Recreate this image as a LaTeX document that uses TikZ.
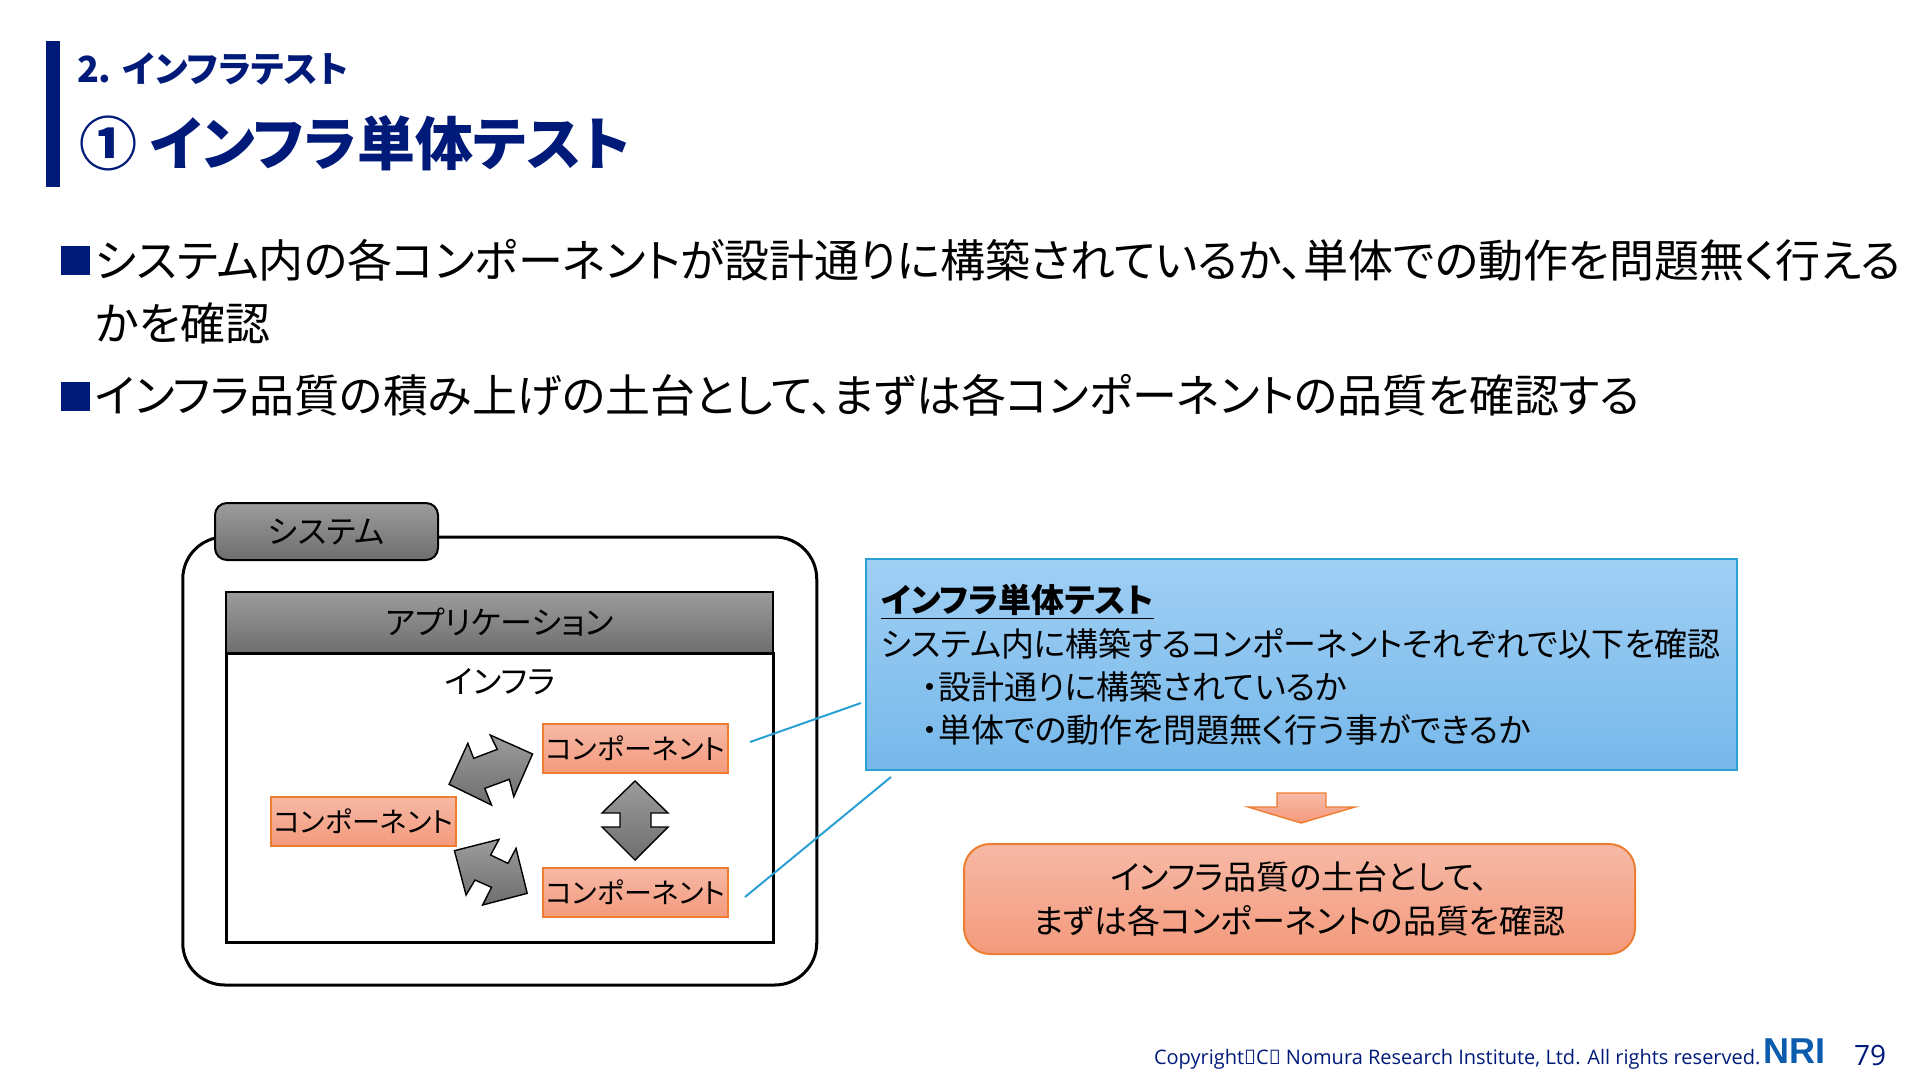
\documentclass[tikz,border=0pt]{standalone}
\usepackage{fontspec}
\setmainfont[RawFeature=+palt]{Noto Sans CJK JP}
\newfontfamily\latinf{Open Sans}
\newfontfamily\logof{Liberation Sans}
\definecolor{navy}{HTML}{001A7A}
\definecolor{logoblue}{HTML}{0B5CAD}
\definecolor{edgeorange}{HTML}{ED7D31}
\definecolor{orangetop}{HTML}{F6B9A6}
\definecolor{orangebot}{HTML}{F49A7C}
\definecolor{bluetop}{HTML}{A0CFF4}
\definecolor{bluebot}{HTML}{76B8EA}
\definecolor{edgeblue}{HTML}{2AA0D5}
\definecolor{graytop}{HTML}{9C9C9C}
\definecolor{graybot}{HTML}{6E6E6E}
\newcommand{\px}[1]{\fontsize{#1/2}{#1/2}\selectfont}
\newcommand{\fsz}[2]{\fontsize{#1pt}{#2pt}\selectfont}
\tikzset{
  plain/.style={inner sep=0pt,outer sep=0pt},
  graybox/.style={plain,draw=black,line width=1pt,top color=graytop,bottom color=graybot,text=black},
  compbox/.style={plain,draw=edgeorange,line width=1pt,top color=orangetop,bottom color=orangebot,minimum width=92.5pt,minimum height=24.5pt,font=\fsz{14}{16}},
  grayarrow/.style={draw=black,line width=0.7pt,top color=graytop,bottom color=graybot},
  leader/.style={draw=edgeblue,line width=1pt},
  bullet/.style={plain,fill=navy,minimum width=14.5pt,minimum height=14.5pt},
  bodytext/.style={plain,anchor=west,text=black,font=\fsz{22.5}{26}},
  boxtext/.style={plain,anchor=west,text=black,font=\fsz{16.5}{20}},
  titletext/.style={plain,anchor=west,text=navy,font=\bfseries\fsz{18}{20}}
}
\begin{document}
\begin{tikzpicture}[x=0.5pt,y=-0.5pt]
\useasboundingbox (0,0) rectangle (1920,1080);
% title
\node[plain,fill=navy,minimum width=7pt,minimum height=73pt] (bar) at (53,114) {};
\node[titletext] (sect) at (77,69) {2. インフラテスト};
\node[plain,anchor=west,text=navy,font=\bfseries\fsz{29}{32}] (title) at (79,143) {① インフラ単体テスト};
% body
\node[bullet] (b1) at (75,261) {};
\node[bodytext] (t1) at (95,260) {システム内の各コンポーネントが設計通りに構築されているか、単体での動作を問題無く行える};
\node[bodytext] (t1b) at (95,323) {かを確認};
\node[bullet] (b2) at (75,396) {};
\node[bodytext] (t2) at (95,395) {インフラ品質の積み上げの土台として、まずは各コンポーネントの品質を確認する};
% system
\node[plain,draw=black,line width=1.5pt,fill=white,rounded corners=21pt,minimum width=317pt,minimum height=224pt] (sys) at (499.75,761) {};
\node[graybox,rounded corners=6pt,minimum width=111.5pt,minimum height=28.5pt,font=\fsz{16}{18}] (tab) at (326.5,531.5) {システム};
\node[graybox,line width=1.2pt,minimum width=273.5pt,minimum height=30.5pt,font=\fsz{16}{18}] (app) at (499.5,622.5) {アプリケーション};
\node[plain,draw=black,line width=1.5pt,fill=white,minimum width=273.5pt,minimum height=144.5pt] (infra) at (499.5,797.5) {};
\node[plain,text=black,font=\fsz{16}{18}] (infral) at (500,682) {インフラ};
\node[compbox] (c1) at (635.5,748.5) {コンポーネント};
\node[compbox] (c2) at (363.5,821) {コンポーネント};
\node[compbox] (c3) at (635.5,892.5) {コンポーネント};
% exchange arrows
\draw[grayarrow] (635,781) -- (668,813) -- (651,813) -- (651,827) -- (668,827) -- (635,860) -- (602,827) -- (620,827) -- (620,813) -- (602,813) -- cycle;
\begin{scope}[shift={(150,480)},x=0.22321pt,y=-0.16667pt]
\draw[grayarrow] (762,765) -- (778,808) -- (725,835) -- (712,790) -- (670,913) -- (765,975) -- (750,925) -- (805,898) -- (815,950) -- (857,822) -- cycle;
\draw[grayarrow] (782,1078) -- (763,1125) -- (802,1150) -- (820,1105) -- (845,1240) -- (745,1275) -- (765,1222) -- (728,1200) -- (708,1245) -- (682,1112) -- cycle;
\end{scope}
% leaders
\coordinate (l1a) at (750,742);
\coordinate (l1b) at (861,703);
\coordinate (l2a) at (745,897);
\coordinate (l2b) at (891,777);
\draw[leader] (l1a) -- (l1b);
\draw[leader] (l2a) -- (l2b);
% blue box
\node[plain,draw=edgeblue,line width=1pt,top color=bluetop,bottom color=bluebot,minimum width=435.5pt,minimum height=105.5pt] (blue) at (1301.5,664.5) {};
\node[boxtext,font=\bfseries\fsz{16.5}{20}] (bt0) at (881,602) {\underline{インフラ単体テスト}};
\node[boxtext] (bt1) at (881,644) {システム内に構築するコンポーネントそれぞれで以下を確認};
\node[boxtext] (bt2) at (922,687) {・設計通りに構築されているか};
\node[boxtext] (bt3) at (922,730) {・単体での動作を問題無く行う事ができるか};
% down arrow
\draw[draw=edgeorange,line width=0.7pt,top color=orangetop,bottom color=orangebot] (1277,793) -- (1326,793) -- (1326,807) -- (1355,807) -- (1301,823) -- (1248,807) -- (1277,807) -- cycle;
% result
\node[plain,draw=edgeorange,line width=1pt,top color=orangetop,bottom color=orangebot,rounded corners=13pt,minimum width=335.5pt,minimum height=55pt,align=center,text=black,font=\fsz{16.5}{22}] (res) at (1299.5,899) {インフラ品質の土台として、\\まずは各コンポーネントの品質を確認};
% footer
\node[plain,anchor=west,text=navy,font=\latinf\fsz{10}{12}] (copy) at (1154,1059) {Copyright（C） Nomura Research Institute, Ltd. All rights reserved.};
\node[plain,text=logoblue,font=\logof\bfseries\fsz{18}{20}] (logo) at (1794,1051) {NRI};
\node[plain,text=navy,font=\latinf\fsz{14}{16}] (page) at (1870,1055) {79};
\end{tikzpicture}
\end{document}
